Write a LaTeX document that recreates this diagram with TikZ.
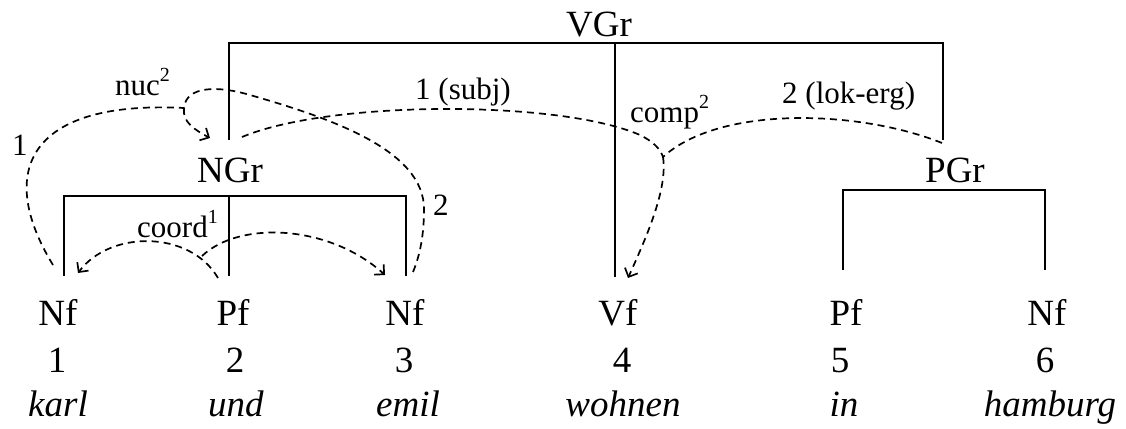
\documentclass[tikz,border=0pt]{standalone}
\usepackage{fontspec}
\setmainfont{Liberation Serif}
\usetikzlibrary{arrows.meta}
\newcommand\mysup[1]{\raisebox{13.5pt}{\fontsize{20}{20}\selectfont #1}}
\begin{document}
\begin{tikzpicture}[x=1pt,y=-1pt,
  main/.style={font=\fontsize{37}{40}\selectfont, inner sep=0pt, anchor=base},
  lab/.style={font=\fontsize{31}{34}\selectfont, inner sep=0pt, anchor=base west},
  brk/.style={line width=2pt},
  dep/.style={line width=1.7pt, dash pattern=on 7pt off 5pt},
  arr/.style={dep, -{Straight Barb[length=7pt,width=14pt,line width=1.7pt]}}]
\useasboundingbox (0,0) rectangle (1126,428);
% group labels
\node[main] (vgr) at (599,37) {VGr};
\node[main] (ngr) at (230,182) {NGr};
\node[main] (pgr) at (955,182) {PGr};
% categories
\node[main] (c1) at (58,325) {Nf};
\node[main] (c2) at (233,325) {Pf};
\node[main] (c3) at (405,325) {Nf};
\node[main] (c4) at (618,325) {Vf};
\node[main] (c5) at (846,325) {Pf};
\node[main] (c6) at (1047,325) {Nf};
% numbers
\node[main] (n1) at (57,372) {1};
\node[main] (n2) at (235,372) {2};
\node[main] (n3) at (404,372) {3};
\node[main] (n4) at (622,372) {4};
\node[main] (n5) at (840,372) {5};
\node[main] (n6) at (1045,372) {6};
% words
\node[main] (w1) at (58,416) {\textit{karl}};
\node[main] (w2) at (236,416) {\textit{und}};
\node[main] (w3) at (408,416) {\textit{emil}};
\node[main] (w4) at (623,416) {\textit{wohnen}};
\node[main] (w5) at (844,416) {\textit{in}};
\node[main] (w6) at (1050,416) {\textit{hamburg}};
% bracket coordinates
\coordinate (vL) at (229,140);
\coordinate (vTL) at (229,43);
\coordinate (vTR) at (943,43);
\coordinate (vR) at (943,140);
\coordinate (vM) at (615,43);
\coordinate (vMb) at (615,277);
\coordinate (nL) at (64,276);
\coordinate (nTL) at (64,196);
\coordinate (nTR) at (406,196);
\coordinate (nR) at (406,276);
\coordinate (nM) at (229,196);
\coordinate (nMb) at (229,276);
\coordinate (pL) at (843,270);
\coordinate (pTL) at (843,190);
\coordinate (pTR) at (1045,190);
\coordinate (pR) at (1045,270);
% brackets
\draw[brk] (vL) -- (vTL) -- (vTR) -- (vR);
\draw[brk] (vM) -- (vMb);
\draw[brk] (nL) -- (nTL) -- (nTR) -- (nR);
\draw[brk] (nM) -- (nMb);
\draw[brk] (pL) -- (pTL) -- (pTR) -- (pR);
% connector end points
\coordinate (m1) at (184,108);
\coordinate (m2) at (663,157);
\coordinate (j1) at (202,256);
\coordinate (s1) at (53,265);
\coordinate (s3) at (413,272);
\coordinate (ngrIn) at (210,138);
\coordinate (ngrOut) at (242,137);
\coordinate (pgrOut) at (942,143);
\coordinate (vfIn) at (628,278);
\coordinate (pfOut) at (218,278);
\coordinate (nf1In) at (78,273);
\coordinate (nf3In) at (385,275);
% nuc
\draw[dep] (s1) .. controls (-5,170) and (30,100) .. (m1);
\draw[dep] (s3) .. controls (418,260) and (424,240) .. (424,210)
  .. controls (425,150) and (330,118) .. (250,95)
  .. controls (220,86) and (186,85) .. (m1);
\draw[arr] (m1) .. controls (182,122) and (195,130) .. (ngrIn);
% comp
\draw[dep] (ngrOut) .. controls (330,100) and (560,100) .. (640,135)
  .. controls (652,141) and (660,148) .. (m2);
\draw[dep] (pgrOut) .. controls (860,110) and (720,105) .. (m2);
\draw[arr] (m2) .. controls (668,190) and (645,240) .. (vfIn);
% coord
\draw[arr] (pfOut) .. controls (190,230) and (110,230) .. (nf1In);
\draw[arr] (j1) .. controls (240,220) and (330,225) .. (nf3In);
% labels
\node[lab] (l1) at (12,155) {1};
\node[lab] (lnuc) at (115,95) {nuc\mysup{2}};
\node[lab] (l2) at (433,215) {2};
\node[lab] (lcoord) at (137,237) {coord\mysup{1}};
\node[lab] (lsubj) at (415,99) {1 (subj)};
\node[lab] (lcomp) at (630,122) {comp\mysup{2}};
\node[lab] (llok) at (782,103) {2 (lok-erg)};
\end{tikzpicture}
\end{document}
